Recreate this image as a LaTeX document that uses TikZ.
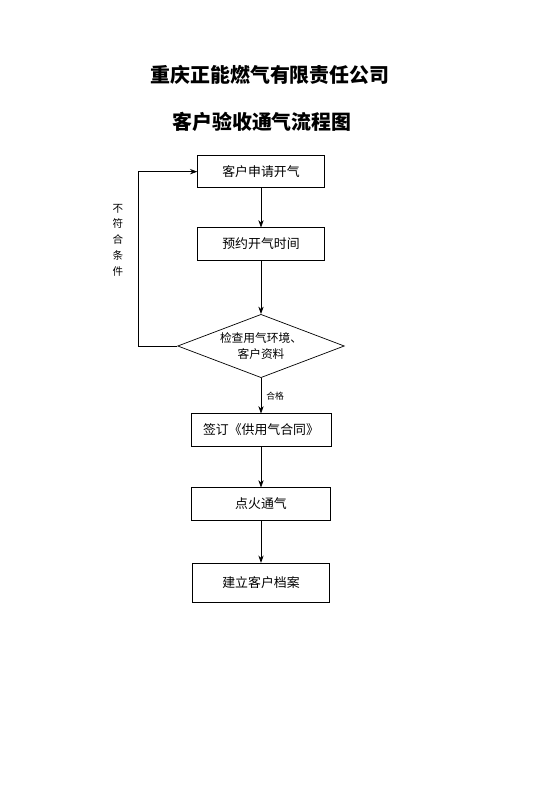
\documentclass[tikz,border=0pt]{standalone}
\usepackage{fontspec}
\setmainfont{Noto Sans CJK SC}
\newfontfamily\titlefont{Noto Sans CJK SC}
\usetikzlibrary{shapes.geometric,arrows.meta}

\begin{document}
\begin{tikzpicture}[
    stepbox/.style={rectangle, draw=black, fill=white, line width=0.6pt,
                    minimum width=3.8cm, minimum height=0.97cm, text centered, font=\fontsize{11}{13}\selectfont},
    check/.style={diamond, draw=black, fill=white, line width=0.6pt, inner sep=0pt, aspect=2.65,
                  minimum width=5cm, minimum height=1.9cm, align=center, font=\fontsize{10}{14}\selectfont},
    title/.style={font=\titlefont\bfseries\fontsize{17}{20}\selectfont},
    flow/.style={line width=0.6pt, -{Stealth[length=2.2mm, width=1.6mm]}}
]
\useasboundingbox (0,0) rectangle (16.2,-24);

% Titles
\node[title] (t1) at (8.1,-2.25) {重庆正能燃气有限责任公司};
\node[title] (t2) at (7.86,-3.66) {客户验收通气流程图};

% Steps
\node[stepbox] (apply) at (7.83,-5.15) {客户申请开气};
\node[stepbox] (book) at (7.83,-7.32) {预约开气时间};
\node[check] (inspect) at (7.83,-10.38) {检查用气环境、\\客户资料};
\node[stepbox, minimum width=4.2cm] (sign) at (7.83,-12.9) {签订《供用气合同》};
\node[stepbox, minimum width=4.15cm] (ignite) at (7.83,-15.12) {点火通气};
\node[stepbox, minimum width=4.12cm, minimum height=1.17cm] (archive) at (7.83,-17.48) {建立客户档案};

% Connectors
\draw[flow] (apply) -- (book);
\draw[flow] (book) -- (inspect);
\draw[flow] (inspect) -- node[right, font=\fontsize{7.5}{9}\selectfont, xshift=1pt] (pass) {合格} (sign);
\draw[flow] (sign) -- (ignite);
\draw[flow] (ignite) -- (archive);

% Loop back
\coordinate (back) at (4.14,-10.38);
\draw[flow] (inspect.west) -- (back) |- (apply.west);
\node[font=\fontsize{9}{13.5}\selectfont, align=center] (fail) at (3.54,-7.2) {不\\符\\合\\条\\件};

\end{tikzpicture}
\end{document}
